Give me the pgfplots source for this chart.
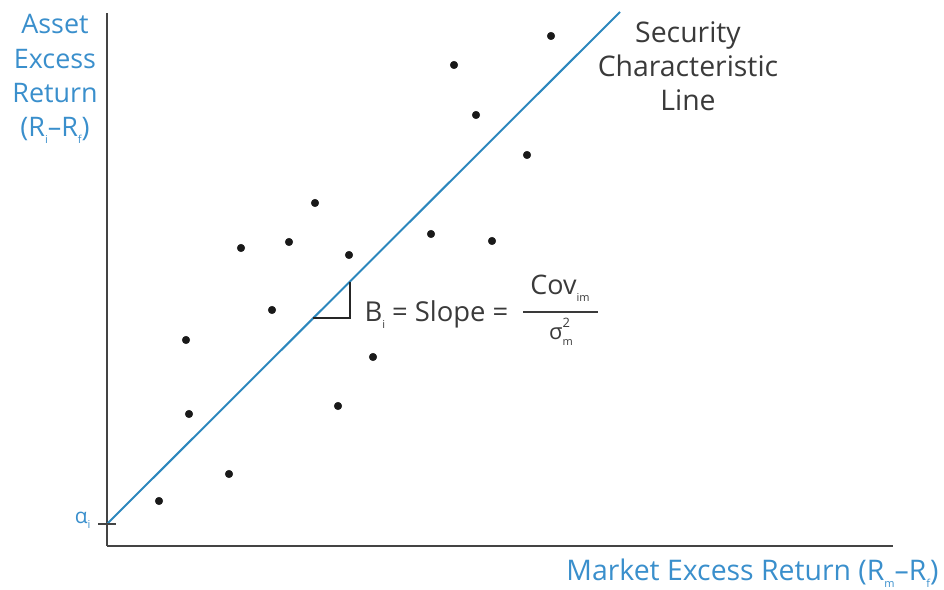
\documentclass[border=0pt]{standalone}
\usepackage{pgfplots}
\pgfplotsset{compat=1.18}
\usepackage{fontspec}
\setmainfont{Open Sans}
\definecolor{lineblue}{HTML}{2C87BD}
\definecolor{textblue}{HTML}{3A8FCC}
\definecolor{axisgray}{HTML}{444444}
\definecolor{txtgray}{HTML}{3A3A3A}
\newcommand{\sub}[1]{\raisebox{-0.45ex}{\fontsize{11}{11}\selectfont #1}}
\begin{document}
\begin{tikzpicture}[x=1bp,y=1bp]
\useasboundingbox (0,0) rectangle (944,590);
\begin{axis}[
  at={(107bp,44bp)}, anchor=south west,
  scale only axis, width=786bp, height=533bp,
  xmin=0, xmax=786, ymin=0, ymax=533,
  axis x line=bottom, axis y line=left,
  axis line style={-, axisgray, line width=1.5bp},
  xtick=\empty, ytick=\empty,
  clip=false,
]
\addplot[lineblue, line width=2bp] coordinates {(0,22) (513,534)};
\addplot[only marks, mark=*, mark size=3.8bp, color=black!90] coordinates {
(52,45) (122,72) (82,132) (79,206) (165,236) (134,298) (182,304) (208,343)
(242,291) (266,189) (231,140) (324,312) (385,305) (420,391) (369,431)
(347,481) (444,510)};
\draw[axisgray, line width=1.3bp] (axis cs:-9,22) -- (axis cs:9,22);
\draw[black!85, line width=1.3bp] (axis cs:206,228) -- (axis cs:243,228) -- (axis cs:243,264);
\end{axis}
\node[textblue, align=center, font=\fontsize{27}{34.5}\selectfont] at (55,511)
  {Asset\\Excess\\Return\\(R\sub{i}–R\sub{f})};
\node[txtgray, align=center, font=\fontsize{28.5}{34}\selectfont] at (688,524)
  {Security\\Characteristic\\Line};
\node[textblue, anchor=east, font=\fontsize{28.5}{30}\selectfont] at (942,17)
  {Market Excess Return (R\sub{m}–R\sub{f})};
\node[textblue, anchor=east, font=\fontsize{21}{24}\selectfont] at (94,70)
  {α\sub{i}};
\node[txtgray, anchor=base west, font=\fontsize{27.5}{30}\selectfont] at (361,268)
  {B\sub{i} = Slope =};
\node[txtgray, anchor=base, font=\fontsize{27}{30}\selectfont] at (560,295)
  {Cov\sub{im}};
\draw[txtgray, line width=1.2bp] (523,278) -- (598,278);
\node[txtgray, anchor=base, font=\fontsize{22}{26}\selectfont] at (561,250)
  {σ\rlap{\raisebox{1.1ex}{\fontsize{13}{13}\selectfont 2}}\sub{m}};
\end{tikzpicture}
\end{document}
